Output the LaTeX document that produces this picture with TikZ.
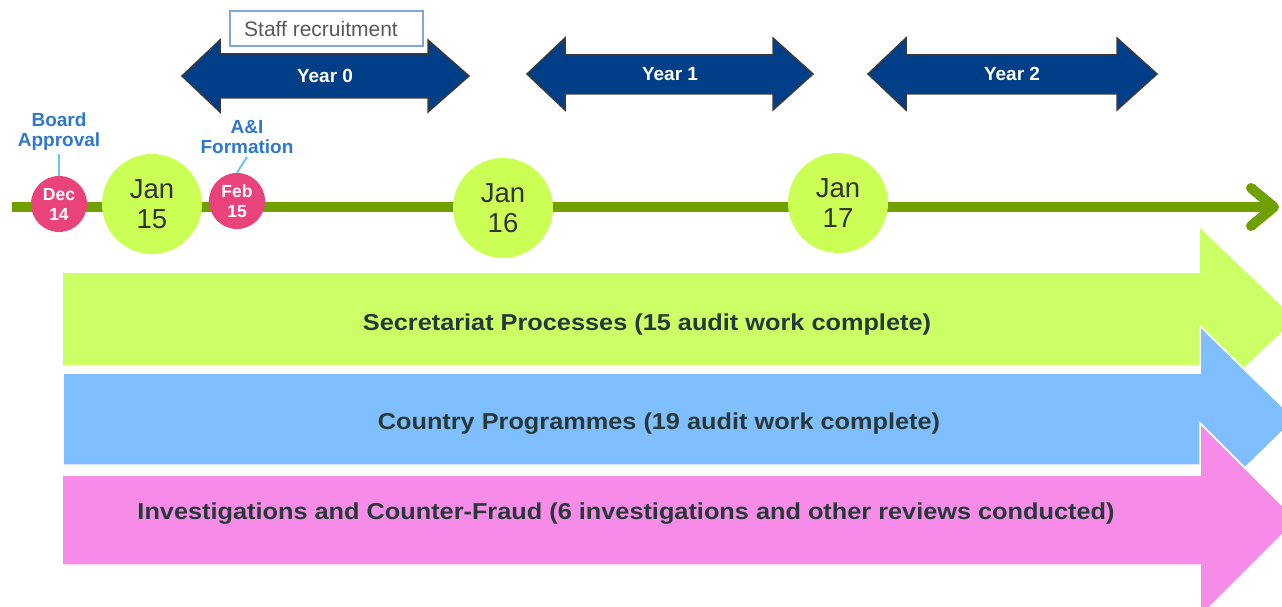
\documentclass[tikz,border=0pt]{standalone}
\usepackage{fontspec}
\setmainfont{Liberation Sans}
\definecolor{tlgreen}{HTML}{6FA000}
\definecolor{janfill}{HTML}{CCFF55}
\definecolor{pinkdot}{HTML}{E8437A}
\definecolor{navy}{HTML}{003F87}
\definecolor{navyedge}{HTML}{3A3A3A}
\definecolor{arrgreen}{HTML}{CCFF66}
\definecolor{arrblue}{HTML}{7FBFFF}
\definecolor{arrpink}{HTML}{F78CE8}
\definecolor{lblblue}{HTML}{2F78CC}
\definecolor{tickblue}{HTML}{66C8EE}
\definecolor{staffedge}{HTML}{7FA8D8}
\definecolor{bigtext}{HTML}{263838}
\newcommand{\widen}[1]{\scalebox{1.1}[1]{#1}}
\begin{document}
\begin{tikzpicture}[x=1pt,y=-1pt,
  tline/.style={draw=tlgreen, line width=10pt},
  tlhead/.style={draw=tlgreen, line width=10pt, line cap=round, line join=round},
  jan/.style={circle, fill=janfill, minimum size=100pt, inner sep=0pt, align=center, text=black!80, font=\fontsize{27.5}{30}\selectfont},
  pinkd/.style={circle, fill=pinkdot, minimum size=56pt, inner sep=0pt, align=center, text=white, font=\fontsize{17.5}{20}\selectfont\bfseries},
  lbl/.style={align=center, inner sep=3pt, text=lblblue, font=\fontsize{19}{20}\selectfont\bfseries},
  tick/.style={draw=tickblue, line width=2pt},
  yeararrow/.style={fill=navy, draw=navyedge, line width=1.5pt, line join=miter},
  yeartext/.style={text=white, font=\fontsize{19}{20}\selectfont\bfseries},
  staffbox/.style={draw=staffedge, fill=white, line width=1.2pt, minimum width=193pt, minimum height=35pt, inner sep=0pt},
  stafftext/.style={text=black!65, font=\fontsize{21}{24}\selectfont},
  bigarrow/.style={draw=white, line width=1.5pt, line join=miter},
  bigtxt/.style={text=bigtext, font=\fontsize{23}{26}\selectfont\bfseries}
]
\clip (0,0) rectangle (1282,607);
\useasboundingbox (0,0) rectangle (1282,607);

% timeline
\coordinate (tlstart) at (12,207);
\coordinate (tlend) at (1274,207);
\draw[tline] (tlstart) -- (tlend);
\draw[tlhead] ([shift={(-23,-19)}]tlend) -- (tlend) -- ([shift={(-23,19)}]tlend);

% milestones
\node[jan] (jan15) at (152,204) {Jan\\15};
\node[jan] (jan16) at (503,208) {Jan\\16};
\node[jan] (jan17) at (838,203) {Jan\\17};
\node[pinkd] (dec14) at (59,204) {Dec\\14};
\node[pinkd] (feb15) at (237,201) {Feb\\15};

% labels
\node[lbl] (board) at (59,132) {Board\\Approval};
\node[lbl] (ai) at (247,137) {A\&I\\Formation};
\draw[tick] (board.south) -- (dec14.north);
\draw[tick] (ai.south) -- (feb15.north);

% year arrows
\draw[yeararrow] (182,76) -- (220,40) -- (220,54) -- (428,54) -- (428,40) -- (469,76) -- (428,112) -- (428,98) -- (220,98) -- (220,112) -- cycle;
\node[yeartext] (y0) at (325,76) {Year 0};
\draw[yeararrow] (527,74) -- (565,38) -- (565,55) -- (773,55) -- (773,38) -- (813,74) -- (773,110) -- (773,94) -- (565,94) -- (565,110) -- cycle;
\node[yeartext] (y1) at (670,74) {Year 1};
\draw[yeararrow] (868,74) -- (906,38) -- (906,55) -- (1117,55) -- (1117,38) -- (1157,74) -- (1117,110) -- (1117,94) -- (906,94) -- (906,110) -- cycle;
\node[yeartext] (y2) at (1012,74) {Year 2};

\node[staffbox] (staff) at (326.5,28.5) {};
\node[stafftext] (stafflabel) at (321,28.5) {Staff recruitment};

% big arrows
\fill[arrgreen] (63,273) -- (1200,273) -- (1200,228) -- (1295,319) -- (1200,410) -- (1200,365) -- (63,365) -- cycle;
\node[bigtxt] (sec) at (647,325) {\widen{Secretariat Processes (15 audit work complete)}};
\path[bigarrow, fill=arrblue] (63,373) -- (1200,373) -- (1200,326) -- (1295,419) -- (1200,512) -- (1200,465) -- (63,465) -- cycle;
\node[bigtxt] (cty) at (659,424) {\widen{Country Programmes (19 audit work complete)}};
\path[bigarrow, fill=arrpink] (62,475) -- (1200,475) -- (1200,423) -- (1297,520) -- (1200,617) -- (1200,565) -- (62,565) -- cycle;
\node[bigtxt] (inv) at (626,514) {\widen{Investigations and Counter-Fraud (6 investigations and other reviews conducted)}};
\end{tikzpicture}
\end{document}
